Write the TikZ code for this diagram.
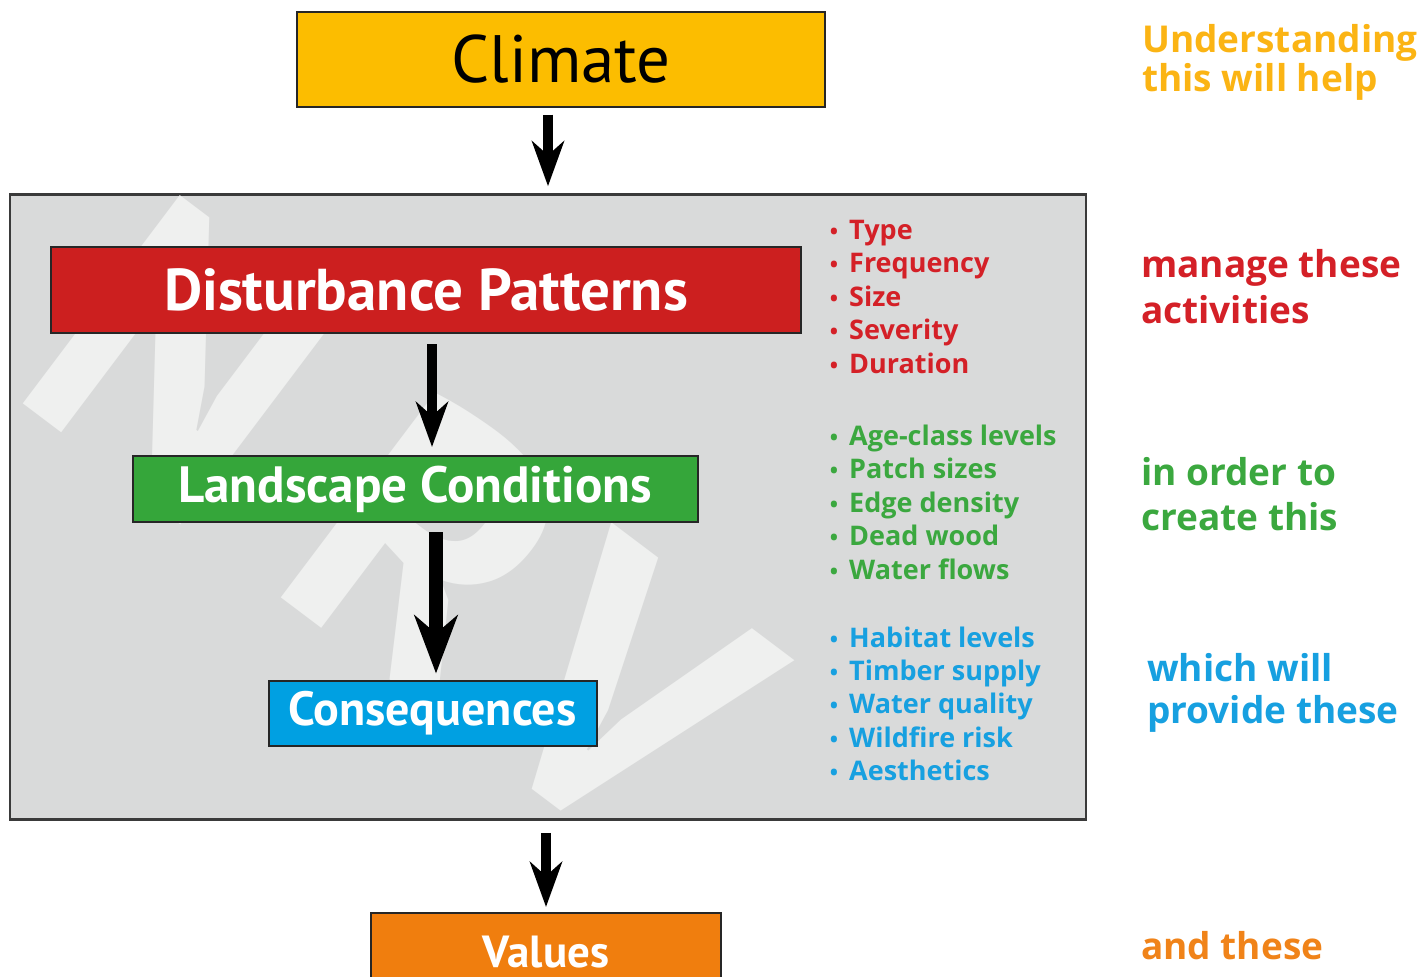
\documentclass[tikz,border=0pt]{standalone}
\usepackage{fontspec}
\setmainfont{PT Sans}
\newfontfamily\labelfont{Open Sans}
\usetikzlibrary{positioning}
\usetikzlibrary{arrows.meta}

\definecolor{climateyellow}{HTML}{FCBD00}
\definecolor{distred}{HTML}{CC1F1F}
\definecolor{landgreen}{HTML}{35A63A}
\definecolor{consblue}{HTML}{00A0E2}
\definecolor{valorange}{HTML}{F07E0E}
\definecolor{panelgray}{HTML}{D9DADA}
\definecolor{markgray}{HTML}{EFF0EF}
\definecolor{framegray}{HTML}{3A3A3A}
\definecolor{helpyellow}{HTML}{FBB414}
\definecolor{textred}{HTML}{D42027}
\definecolor{textgreen}{HTML}{3BA83F}
\definecolor{textblue}{HTML}{17A0E0}
\definecolor{textorange}{HTML}{F08319}

\newcommand{\bul}{\llap{{\fontsize{22}{22}\selectfont\textbullet}\hspace{11pt}}}

\begin{document}
\begin{tikzpicture}[x=1pt,y=-1pt]
        \useasboundingbox (0,0) rectangle (1425,977);

        % grey panel with the NRV watermark
        \node (nrvbox) [draw=framegray, line width=2.5pt, fill=panelgray, inner sep=0pt,
            minimum width=1076pt, minimum height=625pt] at (548,507) {};
        \begin{scope}
            \clip (nrvbox.south west) rectangle (nrvbox.north east);
            \node (nrv) [anchor=base west, rotate=-37, inner sep=0pt, text=markgray,
                font=\bfseries\fontsize{370}{370}\selectfont] at (5,390) {N\hspace{80pt}R\hspace{22pt}V};
        \end{scope}

        \begin{scope}[every node/.style={draw=black!85, line width=2pt, inner sep=0pt, text=white}]
            \node (climate) [fill=climateyellow, text=black, minimum width=528pt, minimum height=95pt,
                font=\fontsize{67}{67}\selectfont] at (561,59) {Climate};
            \node (dist) [fill=distred, minimum width=750pt, minimum height=86pt,
                font=\bfseries\fontsize{59}{59}\selectfont] at (426,290) {Disturbance Patterns};
            \node (land) [fill=landgreen, minimum width=565pt, minimum height=66pt,
                font=\bfseries\fontsize{51}{51}\selectfont] at (415,489) {Landscape Conditions};
            \node (cons) [fill=consblue, minimum width=328pt, minimum height=65pt,
                font=\bfseries\fontsize{48}{48}\selectfont] at (432.5,713) {Consequences};
            \node (values) [fill=valorange, minimum width=350pt, minimum height=78pt,
                font=\bfseries\fontsize{45}{45}\selectfont] at (546,952) {Values};
        \end{scope}

        \coordinate (a2top) at ([xshift=6pt]dist.south);
        \coordinate (a2tip) at (a2top |- land.north);
        \coordinate (a3tip) at ([xshift=3.5pt]cons.north);
        \coordinate (a3top) at (a3tip |- land.south);

        \begin{scope}[every edge/.style={draw=black, line width=10pt,
            -{Stealth[length=45pt, width=32pt, inset=14pt]}}]
            \path (climate.south -| nrvbox.north) edge [shorten <=7pt, shorten >=7pt] (nrvbox.north);
            \path (a2top) edge [shorten <=10pt, shorten >=8pt] (a2tip);
            \path (a3top) edge [line width=14pt, -{Stealth[length=58pt, width=43pt, inset=18pt]},
                shorten <=9pt, shorten >=6pt] (a3tip);
            \path (nrvbox.south -| values.north) edge [shorten <=12pt, shorten >=5pt] (values.north);
        \end{scope}

        % bullet lists (anchored on the last line)
        \begin{scope}[every node/.style={anchor=base west, inner sep=0pt, align=left,
            font=\labelfont\bfseries\fontsize{27}{33.4}\selectfont}]
            \node (distlist) [text=textred] at (849,373)
                {\bul Type\\\bul Frequency\\\bul Size\\\bul Severity\\\bul Duration};
            \node (landlist) [text=textgreen] at (849,579)
                {\bul Age-class levels\\\bul Patch sizes\\\bul Edge density\\\bul Dead wood\\\bul Water flows};
            \node (conslist) [text=textblue] at (849,780.6)
                {\bul Habitat levels\\\bul Timber supply\\\bul Water quality\\\bul Wildfire risk\\\bul Aesthetics};
        \end{scope}

        % side labels
        \begin{scope}[every node/.style={anchor=base west, inner sep=0pt, align=left}]
            \node (helplabel) [text=helpyellow, font=\labelfont\bfseries\fontsize{37}{39.3}\selectfont]
                at (1142,91.5) {Understanding\\this will help};
            \node (managelabel) [text=textred, font=\labelfont\bfseries\fontsize{37}{46}\selectfont]
                at (1141,323.3) {manage these\\activities};
            \node (orderlabel) [text=textgreen, font=\labelfont\bfseries\fontsize{37}{45}\selectfont]
                at (1141,530) {in order to\\create this};
            \node (providelabel) [text=textblue, font=\labelfont\bfseries\fontsize{37}{41.7}\selectfont]
                at (1147,723.3) {which will\\provide these};
            \node (theselabel) [text=textorange, font=\labelfont\bfseries\fontsize{37}{37}\selectfont]
                at (1141,959) {and these};
        \end{scope}
    \end{tikzpicture}
\end{document}
